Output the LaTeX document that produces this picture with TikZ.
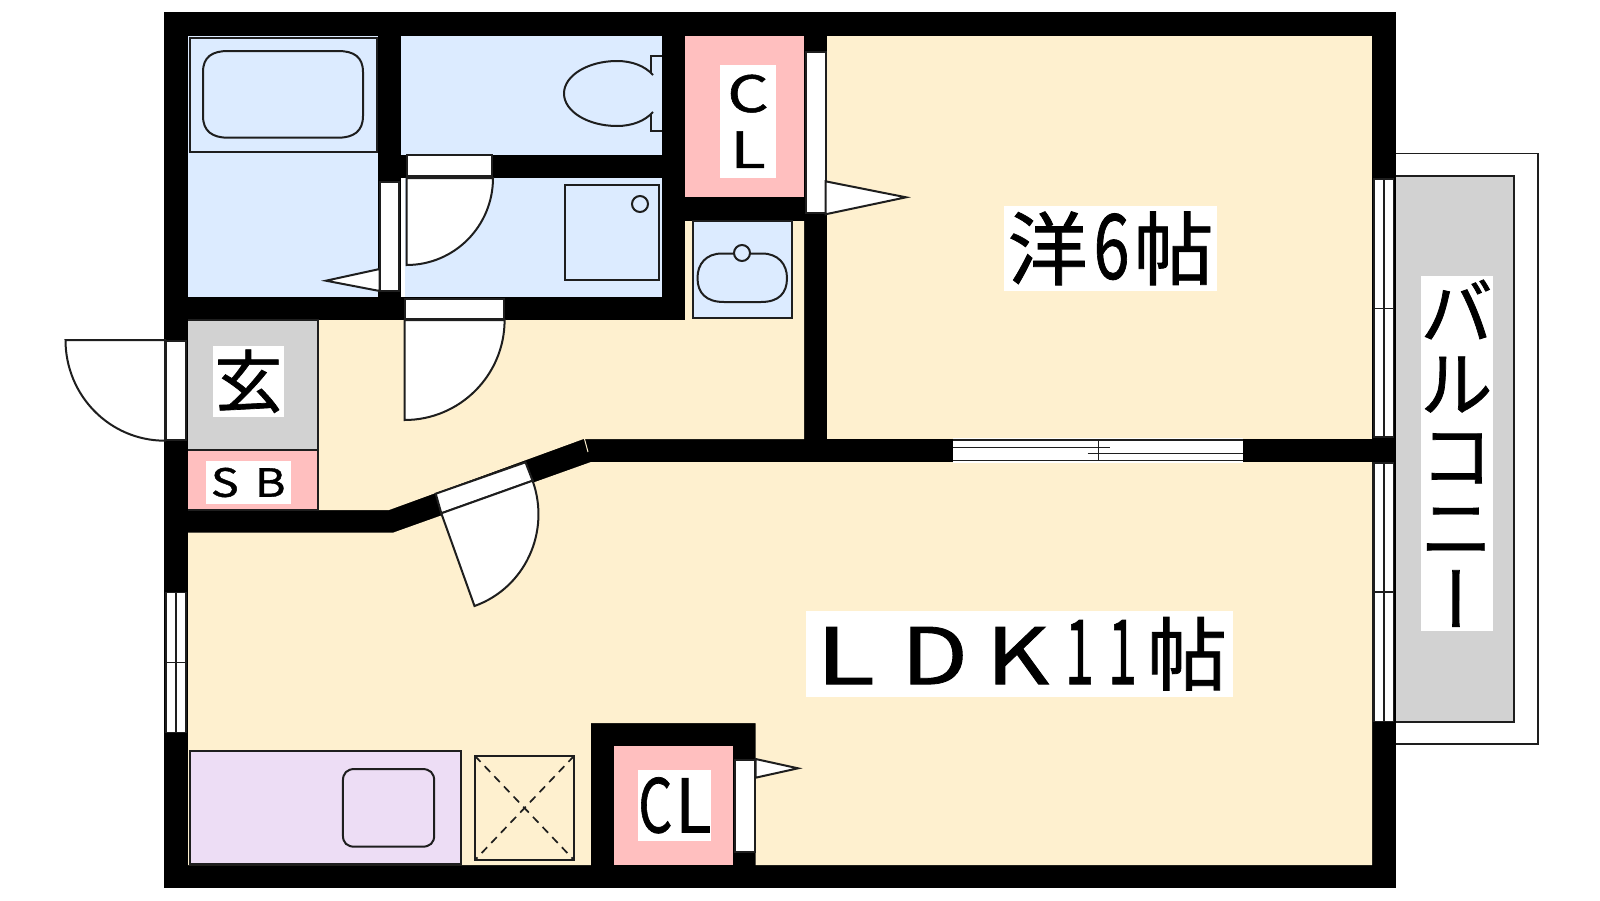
\documentclass[tikz,border=0pt]{standalone}
\usepackage{fontspec}
\usepackage{graphicx}
\newfontfamily\jp[FakeBold=1]{Noto Sans CJK JP}
\newfontfamily\jpv[RawFeature=+vert,FakeBold=1]{Noto Sans CJK JP}
\definecolor{ink}{HTML}{1E1E1E}
\definecolor{cream}{HTML}{FEF0CF}
\definecolor{wet}{HTML}{DCEBFF}
\definecolor{closet}{HTML}{FFBFBF}
\definecolor{stone}{HTML}{D2D2D2}
\definecolor{cook}{HTML}{EDDDF5}
\newcommand{\sx}[2]{\scalebox{#1}[1]{#2}}
\newcommand{\fs}[1]{\fontsize{#1}{#1}\selectfont}
\tikzset{
  fixture/.style={draw=ink,line width=2pt},
  whitepart/.style={draw=ink,line width=2pt,fill=white},
  glass/.style={draw=ink,line width=1.5pt,fill=white},
  label/.style={fill=white,inner sep=0pt,outer sep=0pt,text=black,anchor=center,align=center}
}
\begin{document}
\begin{tikzpicture}[x=1pt,y=-1pt]
\useasboundingbox (0,0) rectangle (1600,900);
% shell
\fill[black] (164,12) rectangle (1396,888);
% rooms
\fill[wet] (188,36) rectangle (378,297);
\fill[wet] (401,36) rectangle (662,155);
\fill[wet] (401,178) rectangle (662,297);
\fill[closet] (685,36) rectangle (804,197);
\fill[cream] (826.5,36) rectangle (1372,439);
\fill[cream] (685,221) -- (804,221) -- (804,439) -- (587,439) -- (583.5,439) -- (389,510) -- (318,510) -- (318,320) -- (685,320) -- cycle;
\fill[cream] (188,532.7) -- (393,532.7) -- (591,462) -- (1372,462) -- (1372,865) -- (755.6,865) -- (755.6,723) -- (590.8,723) -- (590.8,865) -- (188,865) -- cycle;
\draw[cream,line width=1pt] (584.5,439) -- (588,452);
\fill[closet] (613.8,746) rectangle (733.2,865);
% entrance
\filldraw[fill=stone,draw=ink,line width=1.5pt] (188,320) -- (318,320) -- (318,450) -- (188,450);
\filldraw[fill=closet,draw=ink,line width=1.5pt] (188,450) -- (318,450) -- (318,510) -- (188,510);
% bath
\draw[fixture,fill=wet] (189.5,37.7) rectangle (376.5,151.7);
\draw[fixture] (203,72) .. controls (203,57) and (212,51) .. (228,51) -- (338,51) .. controls (354,51) and (363,57) .. (363,72) -- (363,116) .. controls (363,131) and (354,137.7) .. (338,137.7) -- (228,137.7) .. controls (212,137.7) and (203,131) .. (203,116) -- cycle;
% toilet
\draw[fixture] (653,75) .. controls (645,66) and (632,61) .. (617,61) .. controls (588,61) and (564,75.5) .. (564,93.5) .. controls (564,111.5) and (588,126) .. (617,126) .. controls (632,126) and (645,121) .. (653,112);
\draw[fixture] (662,56) -- (650.5,56) -- (650.5,73);
\draw[fixture] (662,131) -- (650.5,131) -- (650.5,114);
% washing machine place
\draw[fixture] (565,185) rectangle (659,280);
\draw[fixture] (640,204) circle (8);
% wash basin
\filldraw[fixture,fill=wet] (693,221) rectangle (792,318);
\draw[fixture] (742,253.5) -- (722,253.5) .. controls (706,253.5) and (697.5,264) .. (697.5,278) .. controls (697.5,293) and (706,302) .. (724,302) -- (761,302) .. controls (779,302) and (787,293) .. (787,278) .. controls (787,264) and (778,253.5) .. (762,253.5) -- cycle;
\filldraw[fixture,fill=wet] (742,253) circle (8);
% doors: bath sliding
\filldraw[whitepart] (379.6,181.7) rectangle (399,290.7);
\filldraw[whitepart] (379.6,269) -- (326,280.7) -- (379.6,291) -- cycle;
\fill[white] (401,178) rectangle (405,297);
% toilet door
\filldraw[whitepart] (407,155) rectangle (492,176);
\filldraw[whitepart] (406.6,178) -- (493,178) .. controls (493,226) and (454.6,265) .. (406.6,265) -- cycle;
% hall door
\filldraw[whitepart] (405,299) rectangle (504,319);
\filldraw[whitepart] (404.6,320) -- (504.6,320) .. controls (504.6,375.2) and (459.8,420) .. (404.6,420) -- cycle;
% entry door
\filldraw[whitepart] (165.8,341) rectangle (186.2,440);
\filldraw[whitepart] (165,340) -- (65.5,340) .. controls (65.5,395.5) and (109.7,440.7) .. (165,440.7) -- cycle;
% closet door top
\filldraw[whitepart] (806,52.3) rectangle (825.5,213.3);
\filldraw[whitepart] (825.5,181.3) -- (906,197.3) -- (825.5,214.3) -- cycle;
% LDK door
\filldraw[whitepart] (435.7,493.7) -- (525.5,462.3) -- (532.6,480.7) -- (441.3,513.3) -- cycle;
\filldraw[whitepart] (441.3,513.3) -- (532.6,480.7) .. controls (550.9,531.9) and (524.9,588) .. (474.5,606) -- cycle;
% lower closet door
\filldraw[whitepart] (734.7,760) rectangle (754.6,851.7);
\filldraw[whitepart] (755.6,759) -- (798,768.3) -- (755.6,777.7) -- cycle;
% sliding door between rooms
\fill[white] (953.3,438) rectangle (1242.7,463);
\draw[glass] (953.3,440) -- (1242.7,440);
\draw[glass] (953.3,460.7) -- (1242.7,460.7);
\draw[glass] (953.3,447.7) -- (1110,447.7);
\draw[glass] (1087.7,453.3) -- (1242.7,453.3);
\draw[glass] (1098.3,440) -- (1098.3,461);
% left window
\filldraw[glass] (165.8,592.3) rectangle (186.2,732.7);
\draw[glass] (176,592.3) -- (176,732.7);
\draw[glass] (165.8,662.3) -- (186.2,662.3);
% right windows
\filldraw[glass] (1374,179) rectangle (1393.5,437);
\draw[glass] (1384,179) -- (1384,437);
\draw[glass] (1374,308.7) -- (1393.5,308.7);
\filldraw[glass] (1374,463) rectangle (1393.5,721.7);
\draw[glass] (1384,463) -- (1384,721.7);
\draw[glass] (1374,592) -- (1393.5,592);
% balcony
\draw[fixture,line width=1.5pt] (1396,153.5) -- (1537.8,153.5) -- (1537.8,744) -- (1396,744);
\filldraw[fill=stone,draw=ink,line width=2pt] (1396,176) -- (1514,176) -- (1514,721.7) -- (1396,721.7);
% kitchen
\filldraw[fixture,fill=cook] (190,751) rectangle (461.2,864);
\draw[fixture] (355,769) -- (422,769) .. controls (430,769) and (434.2,773) .. (434.2,781) -- (434.2,835) .. controls (434.2,843) and (430,846.7) .. (422,846.7) -- (355,846.7) .. controls (347,846.7) and (342.9,843) .. (342.9,835) -- (342.9,781) .. controls (342.9,773) and (347,769) .. (355,769) -- cycle;
% fridge place
\draw[fixture] (475,756) rectangle (574,860);
\draw[fixture,line width=1.7pt,dash pattern=on 8pt off 6pt] (475,756) -- (574,860);
\draw[fixture,line width=1.7pt,dash pattern=on 8pt off 6pt] (574,756) -- (475,860);
% labels
\node[label,font=\jp\fontsize{50}{56}\selectfont,minimum width=56pt,minimum height=112.7pt] (clTop) at (748,121.3) {\sx{1.3}{C}\\\sx{1.3}{L}};
\node[label,font=\jp\fs{80},minimum width=213.3pt,minimum height=84.7pt] (western) at (1110.6,248.3) {洋\kern6pt\sx{.72}{\fs{90}6}\kern4pt 帖};
\node[label,font=\jp\fs{68},minimum width=71.2pt,minimum height=70.7pt] (genkan) at (248.4,381.3) {玄};
\node[label,font=\jp\fs{39},minimum width=85.2pt,minimum height=43pt] (sb) at (248.2,482.5) {\sx{1.2}{S}\kern16pt\sx{1.2}{B}};
\node[label,font=\jp\fs{72},minimum width=71pt,minimum height=354.7pt] (balcony) at (1456.5,453.3) {バ\\ル\\コ\\ニ\\{\jpv ー}};
\node[label,font=\jp\fs{78},minimum width=426.7pt,minimum height=85.7pt] (ldk) at (1019.3,653.8) {\kern4pt\sx{1.4}{L}\kern26pt\sx{1.25}{D}\kern18pt\sx{1.25}{K}\kern16pt\sx{.58}{\fs{90}1}\kern14pt\sx{.58}{\fs{90}1}\kern10pt{\fs{80}帖}};
\node[label,font=\jp\fs{74},minimum width=72.2pt,minimum height=70.7pt] (clLow) at (674.9,805.3) {\sx{.72}{C}\kern3pt\sx{.9}{L}};
\end{tikzpicture}
\end{document}
